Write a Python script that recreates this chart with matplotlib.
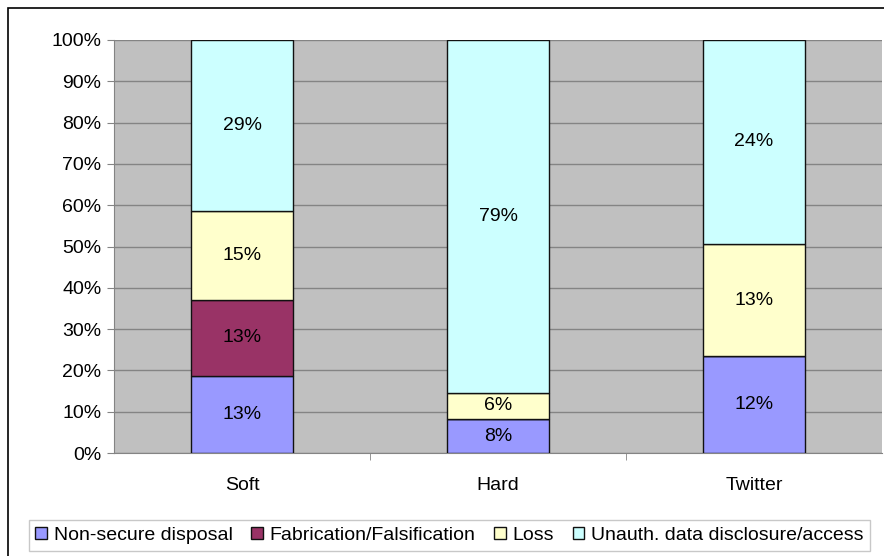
import matplotlib.pyplot as plt
import numpy as np
from matplotlib.patches import Rectangle

categories = ["Soft", "Hard", "Twitter"]
series_names = ["Non-secure disposal", "Fabrication/Falsification", "Loss",
                "Unauth. data disclosure/access"]
non_secure = [13.0, 7.6, 11.6]
fabrication = [13.0, 0.0, 0.0]
loss = [15.0, 6.0, 13.4]
unauth = [29.0, 79.4, 24.4]
colors = ["#9999FF", "#993366", "#FFFFCC", "#CCFFFF"]

plt.rcParams['font.family'] = ['Liberation Sans', 'DejaVu Sans']

fig = plt.figure(figsize=(8.84, 5.56), dpi=100)
fig.patches.append(Rectangle((8 / 884, -0.1), 1.2, 1 - 8 / 556 + 0.1,
                             transform=fig.transFigure, fill=False,
                             edgecolor="black", linewidth=1.2))
ax = fig.add_axes([114 / 884, 1 - 453 / 556, 768 / 884, 413 / 556])
ax.set_facecolor("#C0C0C0")

data = np.array([non_secure, fabrication, loss, unauth])
totals = data.sum(axis=0)
fracs = data / totals * 100
x = np.arange(len(categories))
bottom = np.zeros(len(categories))
for i, name in enumerate(series_names):
    ax.bar(x, fracs[i], 0.395, bottom=bottom, color=colors[i],
           edgecolor="#111111", linewidth=1, label=name, zorder=3)
    for j in range(len(categories)):
        if data[i, j] > 0:
            ax.text(x[j], bottom[j] + fracs[i, j] / 2, f"{data[i, j]:.0f}%",
                    ha="center", va="center", fontsize=14, zorder=4)
    bottom += fracs[i]

ax.set_xlim(-0.5, 2.5)
ax.set_ylim(0, 100)
ax.set_yticks(np.arange(0, 101, 10))
ax.set_yticklabels([f"{v}%" for v in range(0, 101, 10)], fontsize=14)
ax.yaxis.grid(True, color="#848484", linewidth=1, zorder=0)
ax.set_xticks(x)
ax.set_xticklabels(categories, fontsize=14)
ax.set_xticks([0.5, 1.5], minor=True)
ax.tick_params(axis="x", which="major", length=0, pad=17)
ax.tick_params(axis="x", which="minor", length=5, color="#848484")
ax.tick_params(axis="y", length=5, color="#848484", pad=4)
for s in ["top", "right"]:
    ax.spines[s].set_visible(False)
for s in ["left", "bottom"]:
    ax.spines[s].set_color("#848484")

leg = fig.legend(loc="center", bbox_to_anchor=(449.5 / 884, 1 - 535.5 / 556),
                 ncol=4, fontsize=14, frameon=True, fancybox=False,
                 handlelength=0.6, handleheight=0.6, handletextpad=0.35,
                 columnspacing=0.95, borderpad=0.35)
leg.get_frame().set_edgecolor("#BBBBBB")
leg.get_frame().set_linewidth(1)

fig.savefig("out.png", dpi=100)
